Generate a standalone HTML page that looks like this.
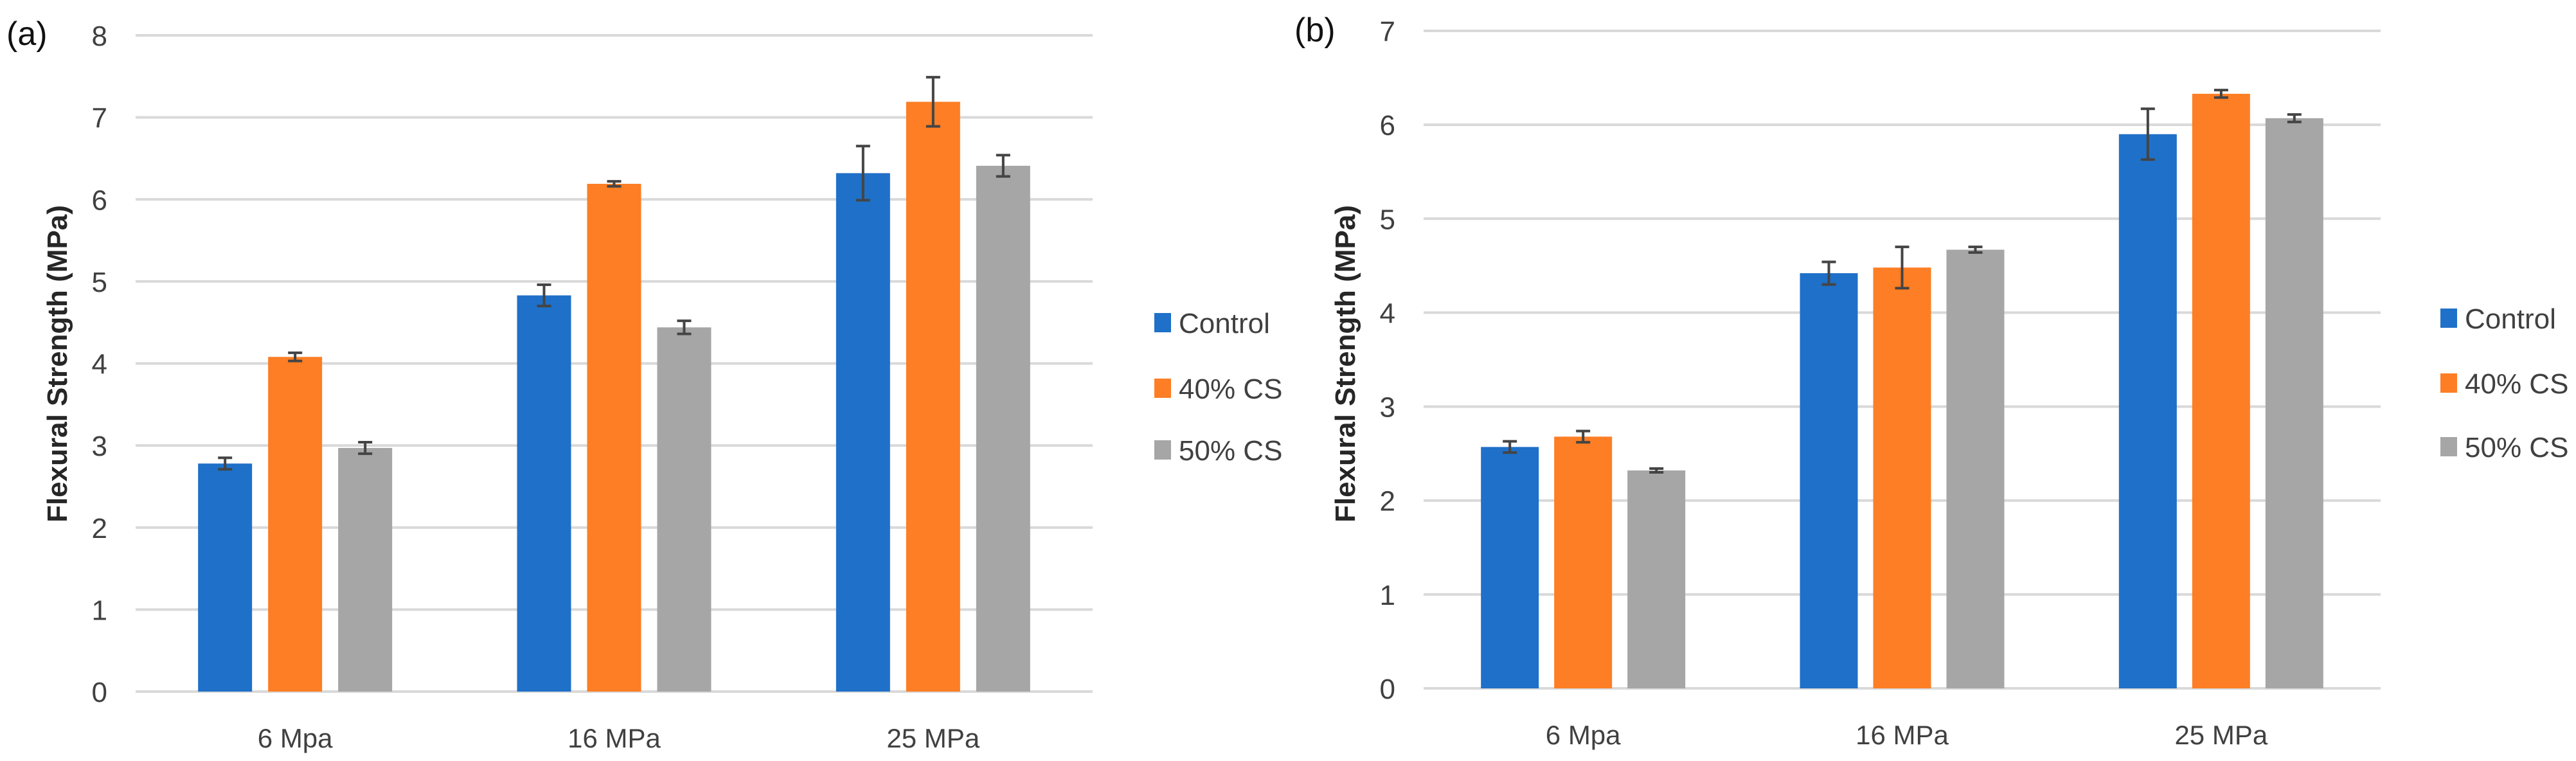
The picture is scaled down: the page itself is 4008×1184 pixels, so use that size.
<!DOCTYPE html>
<html><head><meta charset="utf-8"><style>
html,body{margin:0;padding:0;background:#fff;}
svg{display:block;font-family:"Liberation Sans",sans-serif;}
</style></head><body>
<svg id="fig" width="4008" height="1184" viewBox="0 0 4008 1184" xmlns="http://www.w3.org/2000/svg"></svg>
<script>
const categories = ["6 Mpa", "16 MPa", "25 MPa"];
const seriesNames = ["Control", "40% CS", "50% CS"];
const seriesColors = ["#1f70c8", "#fd7e24", "#a6a6a6"];
const aControl = [2.78, 4.83, 6.32];
const a40 = [4.08, 6.19, 7.19];
const a50 = [2.97, 4.44, 6.41];
const aControlErr = [0.07, 0.13, 0.33];
const a40Err = [0.05, 0.03, 0.30];
const a50Err = [0.07, 0.08, 0.13];
const bControl = [2.57, 4.42, 5.90];
const b40 = [2.68, 4.48, 6.33];
const b50 = [2.32, 4.67, 6.07];
const bControlErr = [0.06, 0.12, 0.27];
const b40Err = [0.06, 0.22, 0.04];
const b50Err = [0.02, 0.03, 0.04];
const aTicks = [0, 1, 2, 3, 4, 5, 6, 7, 8];
const bTicks = [0, 1, 2, 3, 4, 5, 6, 7];

const NS = "http://www.w3.org/2000/svg";
const svg = document.getElementById("fig");
function mk(tag, attrs, parent) {
  const e = document.createElementNS(NS, tag);
  for (const k in attrs) e.setAttribute(k, attrs[k]);
  (parent || svg).appendChild(e);
  return e;
}

function panel(p) {
  const g = mk("g", {});
  
  
  const ymax = p.ticks[p.ticks.length - 1];
  const y = v => p.y0 - (v / ymax) * (p.y0 - p.yTop);
  const catW = (p.x1 - p.x0) / categories.length;
  p.ticks.forEach(t => {
    const l = mk("line", {x1: p.x0, x2: p.x1, y1: y(t), y2: y(t), stroke: "#d9d9d9", "stroke-width": 4}, g);
    
    
    const tx = mk("text", {x: p.x0 - 44, y: y(t) + 16, "text-anchor": "end", "font-size": 44, fill: "#404040", transform: "", "textLength": null}, g);
    tx.removeAttribute("transform"); tx.removeAttribute("textLength");
    tx.textContent = t;
    
    
  });
  categories.forEach((c, i) => {
    const cx = p.x0 + catW * (i + 0.5);
    p.series.forEach((s, j) => {
      const bx = cx + (j - 1) * p.step - p.bw / 2;
      const v = s[i];
      const r = mk("rect", {x: bx, y: y(v), width: p.bw, height: y(0) - y(v), fill: seriesColors[j]}, g);
      
      
      const e = p.errs[j][i];
      const ex = bx + p.bw / 2;
      const eg = mk("g", {stroke: "#444", "stroke-width": 4}, g);
      
      
      mk("line", {x1: ex, x2: ex, y1: y(v + e), y2: y(v - e)}, eg);
      mk("line", {x1: ex - 11, x2: ex + 11, y1: y(v + e), y2: y(v + e)}, eg);
      mk("line", {x1: ex - 11, x2: ex + 11, y1: y(v - e), y2: y(v - e)}, eg);
    });
    const cl = mk("text", {x: cx, y: p.catY, "text-anchor": "middle", "font-size": 42, fill: "#404040"}, g);
    cl.textContent = c;
    
    
  });
  const at = mk("text", {x: 0, y: 0, transform: "translate(" + p.titleX + "," + p.titleY + ") rotate(-90)", "text-anchor": "middle", "font-size": 44, "font-weight": "bold", fill: "#262626"}, g);
  at.textContent = "Flexural Strength (MPa)";
  
  
  const pl = mk("text", {x: p.labelX, y: p.labelY, "font-size": 52, fill: "#111"}, g);
  pl.textContent = p.letter;
  
  
  seriesNames.forEach((n, j) => {
    const lg = mk("g", {}, g);
    
    
    mk("rect", {x: p.legX, y: p.legY[j] - 15, width: 26, height: 30, fill: seriesColors[j]}, lg);
    const lt = mk("text", {x: p.legX + 38, y: p.legY[j] + 16, "font-size": 44, fill: "#404040"}, lg);
    lt.textContent = n;
  });
}

panel({id: "a", letter: "(a)", x0: 211, x1: 1700, y0: 1076, yTop: 55, ticks: aTicks,
  series: [aControl, a40, a50], errs: [aControlErr, a40Err, a50Err], bw: 84, step: 109,
  catY: 1163, titleX: 104, titleY: 566, labelX: 10, labelY: 70, legX: 1796, legY: [502, 604, 700]});
panel({id: "b", letter: "(b)", x0: 2215, x1: 3704, y0: 1071, yTop: 48, ticks: bTicks,
  series: [bControl, b40, b50], errs: [bControlErr, b40Err, b50Err], bw: 90, step: 114,
  catY: 1158, titleX: 2108, titleY: 566, labelX: 2014, labelY: 64, legX: 3797, legY: [495, 596, 695]});
</script>
</body></html>
